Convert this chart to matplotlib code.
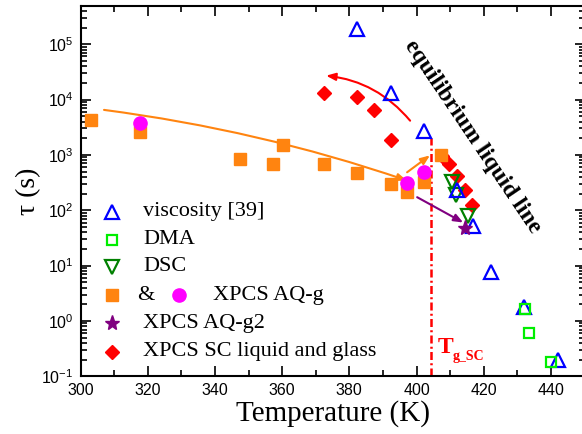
import numpy as np
import matplotlib

matplotlib.use("Agg")
import matplotlib.pyplot as plt
from matplotlib.ticker import MultipleLocator, FixedLocator, NullFormatter

plt.rcParams["font.family"] = "serif"
plt.rcParams["font.serif"] = ["Liberation Serif", "DejaVu Serif"]
plt.rcParams["mathtext.fontset"] = "custom"
plt.rcParams["mathtext.rm"] = "Liberation Sans"
plt.rcParams["mathtext.it"] = "Liberation Sans:italic"
plt.rcParams["mathtext.bf"] = "Liberation Sans:bold"

# ── Data ──────────────────────────────────────────────────────────────────────
VISC_T = [382.4, 392.3, 402.2, 412.1, 416.7, 422.1, 432.0, 442.2]
VISC_TAU = [1.9e5, 1.3e4, 2.75e3, 235, 51, 7.7, 1.75, 0.2]

DMA_T = [432.2, 433.6, 439.9]
DMA_TAU = [1.65, 0.6, 0.18]

DSC_T = [410.5, 411.8, 415.4]
DSC_TAU = [320, 185, 80]

AQG_SQ_T = [303.0, 317.7, 347.5, 357.4, 360.4, 372.5, 382.4, 392.3, 397.3, 402.2, 407.2]
AQG_SQ_TAU = [4.2e3, 2.6e3, 850, 690, 1.48e3, 690, 475, 292, 215, 320, 980]

AQG_CI_T = [317.7, 397.3, 402.2]
AQG_CI_TAU = [3.7e3, 310, 490]

G2_T = [414.4]
G2_TAU = [48]

SC_T = [372.5, 382.4, 387.4, 392.3, 407.7, 409.7, 412.0, 414.3, 416.4]
SC_TAU = [1.34e4, 1.12e4, 6.5e3, 1.89e3, 945, 690, 411, 228, 126]

TG_SC = 404.3
Y_DECADES = [-1, 0, 1, 2, 3, 4, 5]

# ── Colours ──────────────────────────────────────────────────────────────────
BLUE, LIME, DGREEN = "#0000ff", "#00ee00", "#008000"
ORANGE, MAGENTA, PURPLE, RED = "#ff8410", "#ff00ff", "#800080", "#ff0000"

fig = plt.figure(figsize=(5.82, 4.34), dpi=100)
ax = fig.add_axes([80.5 / 582, 57.7 / 434, 504 / 582, 370.8 / 434])
ax.set_yscale("log")
ax.set_xlim(300, 450)
ax.set_ylim(0.1, 5e5)

# vertical T_g line
ax.plot([TG_SC, TG_SC], [0.1, 2.0e3], color=RED, lw=1.8,
        linestyle=(0, (3.2, 1.3, 0.8, 1.3)), zorder=2)

ax.plot(SC_T, SC_TAU, "D", color=RED, ms=7.5, mec=RED, zorder=3)
ax.plot(AQG_SQ_T, AQG_SQ_TAU, "s", color=ORANGE, ms=8.5, zorder=4)
ax.plot(AQG_CI_T, AQG_CI_TAU, "o", color=MAGENTA, ms=9.5, zorder=5)
ax.plot(DSC_T, DSC_TAU, "v", mfc="none", mec=DGREEN, mew=1.6, ms=9.5, zorder=6)
ax.plot(VISC_T, VISC_TAU, "^", mfc="none", mec=BLUE, mew=1.6, ms=10, zorder=6)
ax.plot(DMA_T, DMA_TAU, "s", mfc="none", mec=LIME, mew=1.6, ms=6.5, zorder=6)
ax.plot(G2_T, G2_TAU, "*", color=PURPLE, ms=11, zorder=7)

# arrows
head = "-|>,head_length=0.55,head_width=0.22"
ax.annotate("", xy=(397.1, 345), xytext=(307.0, 6.5e3),
            arrowprops=dict(arrowstyle=head, color=ORANGE, lw=1.5, shrinkA=0, shrinkB=0,
                            connectionstyle="arc3,rad=-0.05"))
ax.annotate("", xy=(404.0, 980), xytext=(397.2, 485),
            arrowprops=dict(arrowstyle=head, color=ORANGE, lw=1.5, shrinkA=0, shrinkB=0))
ax.annotate("", xy=(413.9, 60), xytext=(400.2, 172),
            arrowprops=dict(arrowstyle=head, color=PURPLE, lw=1.5, shrinkA=0, shrinkB=0))
ax.annotate("", xy=(373.1, 2.7e4), xytext=(398.1, 4.15e3),
            arrowprops=dict(arrowstyle=head, color=RED, lw=1.5, shrinkA=0, shrinkB=0,
                            connectionstyle="arc3,rad=0.2"))

# annotations
ax.text(416.6, 2.1e3, "equilibrium liquid line", rotation=-56, rotation_mode="anchor",
        ha="center", va="center", fontsize=17, fontweight="bold", color="black")
ax.text(406.3, 10 ** -0.58, "T", fontsize=17, fontweight="bold", color=RED)
ax.text(410.9, 10 ** -0.71, "g_SC", fontsize=10, fontweight="bold", color=RED)

# manual legend
rows_y = [0.444, 0.368, 0.296, 0.218, 0.143, 0.066]
mx, tx = 0.062, 0.1246
tr = ax.transAxes
ax.plot(mx, rows_y[0], "^", mfc="none", mec=BLUE, mew=1.6, ms=10, transform=tr, clip_on=False)
ax.plot(mx, rows_y[1], "s", mfc="none", mec=LIME, mew=1.6, ms=6.5, transform=tr, clip_on=False)
ax.plot(mx, rows_y[2], "v", mfc="none", mec=DGREEN, mew=1.6, ms=9.5, transform=tr, clip_on=False)
ax.plot(mx, rows_y[3], "s", color=ORANGE, ms=8.5, transform=tr, clip_on=False)
ax.plot(0.196, rows_y[3], "o", color=MAGENTA, ms=9.5, transform=tr, clip_on=False)
ax.plot(mx, rows_y[4], "*", color=PURPLE, ms=11, transform=tr, clip_on=False)
ax.plot(mx, rows_y[5], "D", color=RED, ms=7.5, transform=tr, clip_on=False)
labels = ["viscosity [39]", "DMA", "DSC", None, "XPCS AQ-g2", "XPCS SC liquid and glass"]
for y, lab in zip(rows_y, labels):
    if lab:
        ax.text(tx, y, lab, transform=tr, fontsize=16, va="center")
ax.text(0.112, rows_y[3], "&", transform=tr, fontsize=16, va="center")
ax.text(0.262, rows_y[3], "XPCS AQ-g", transform=tr, fontsize=16, va="center")

# axes styling
ax.set_xlabel("Temperature (K)", fontsize=21, labelpad=1)
ax.set_ylabel("τ (s)", fontsize=20, labelpad=0)
ax.xaxis.set_major_locator(MultipleLocator(20))
ax.xaxis.set_minor_locator(MultipleLocator(10))
ax.yaxis.set_major_locator(FixedLocator([10.0 ** d for d in Y_DECADES]))
ax.set_yticklabels([f"$10^{{{d}}}$" for d in Y_DECADES])
minor = [m * 10.0 ** d for d in Y_DECADES for m in range(2, 10) if m * 10.0 ** d < 5e5]
ax.yaxis.set_minor_locator(FixedLocator(minor))
ax.yaxis.set_minor_formatter(NullFormatter())
ax.tick_params(which="both", direction="in", top=True, right=True, width=1.2)
ax.tick_params(which="major", length=7, labelsize=11.5, pad=5)
ax.tick_params(which="minor", length=4)
for lab in ax.get_xticklabels() + ax.get_yticklabels():
    lab.set_family("Liberation Sans")
for s in ax.spines.values():
    s.set_linewidth(1.5)

fig.savefig("out.png", dpi=100)
